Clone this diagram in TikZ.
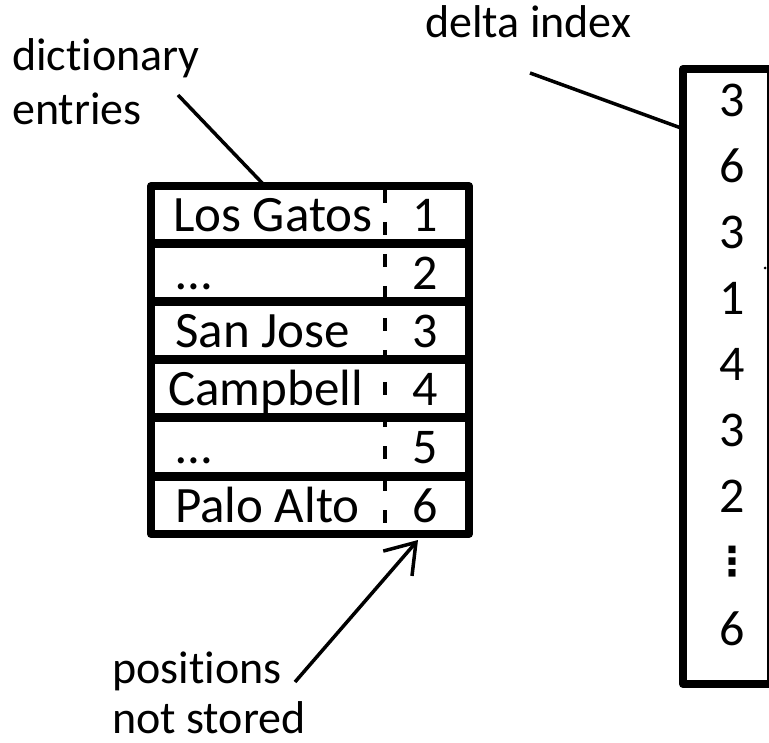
\documentclass[tikz,border=0pt]{standalone}
\usepackage{fontspec}
\setmainfont{Carlito}[Ligatures=NoCommon]
\newfontfamily\symfont{DejaVu Sans}
\usetikzlibrary{arrows.meta}
\begin{document}
\begin{tikzpicture}[x=1pt,y=-1pt,
  lbl/.style={anchor=base west,inner sep=0pt,font=\fontsize{46}{55}\selectfont},
  cell/.style={anchor=base west,inner sep=0pt,font=\fontsize{51}{60}\selectfont},
  num/.style={anchor=base,inner sep=0pt,font=\fontsize{50}{60}\selectfont},
  frame/.style={line width=8pt,line join=round},
  sep/.style={line width=9pt},
  conn/.style={line width=3.5pt},
]
\useasboundingbox (0,0) rectangle (769,743);

% dictionary table
\node[draw,frame,anchor=north west,inner sep=0pt,outer sep=0pt,
      minimum width=318pt,minimum height=348pt] (dict) at (151,186) {};
\foreach \i in {1,...,5}{
  \draw[sep] (151,186+58*\i) -- (469,186+58*\i);
}
\draw[line width=4pt,dash pattern=on 13pt off 19pt] (385,190) -- (385,530);

\foreach \t/\x [count=\i from 0] in {Los Gatos/173,\dots/176,San Jose/175,Campbell/168,\dots/176,Palo Alto/175}{
  \node[cell] (name\i) at (\x,232+58*\i) {\t};
}
\foreach \i in {1,...,6}{
  \node[num] (pos\i) at (425,232+58*\i-58) {\i};
}

% delta index column
\node[draw,frame,anchor=north west,inner sep=0pt,outer sep=0pt,
      minimum width=88pt,minimum height=615pt] (delta) at (683,69) {};
\foreach \v [count=\i from 0] in {3,6,3,1,4,3,2}{
  \node[num] (dv\i) at (732,117+65.9*\i) {\v};
}
\node[anchor=center,inner sep=0pt,font=\symfont\bfseries\fontsize{40}{48}\selectfont] (dvdots) at (732,562) {⋮};
\node[num] (dvlast) at (732,645) {6};
\fill (765,268) circle (1.5);

% labels and pointers
\node[lbl] (dictlbl) at (12,71) {dictionary};
\node[lbl] (entrieslbl) at (12,125) {entries};
\node[lbl] (deltalbl) at (425,38) {delta index};
\node[lbl] (poslbl) at (112,683) {positions};
\node[lbl] (storedlbl) at (112,733) {not stored};

\coordinate (dictfrom) at (178,95);
\coordinate (dictto) at (265,186);
\coordinate (deltafrom) at (530,73);
\coordinate (deltato) at (681,128);
\coordinate (posfrom) at (295,682);
\coordinate (posto) at (418,540);

\draw[conn] (dictfrom) -- (dictto);
\draw[conn] (deltafrom) -- (deltato);
\draw[conn,-{Straight Barb[length=28pt,width=38pt]}] (posfrom) -- (posto);
\end{tikzpicture}
\end{document}
